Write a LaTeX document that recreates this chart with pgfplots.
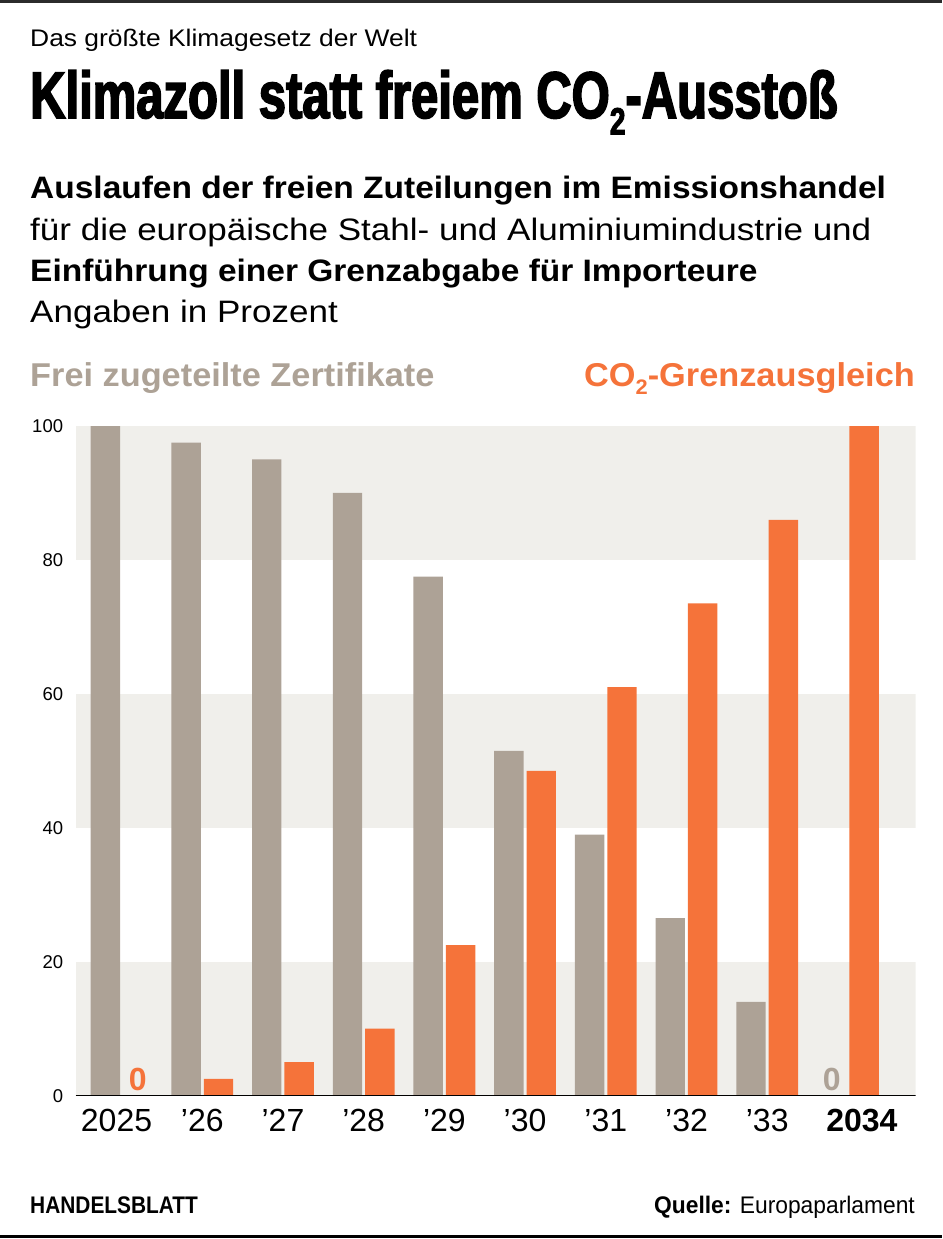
\documentclass[border=0pt]{standalone}
\usepackage{fontspec}
\setmainfont{Liberation Sans}
\newfontfamily\bodyfont[FakeStretch=1.13]{Liberation Sans}
\newfontfamily\bodyboldfont[FakeStretch=1.08]{Liberation Sans}
\newfontfamily\subfont[FakeStretch=1.1]{Liberation Sans}
\newfontfamily\legendfont[FakeStretch=1.04]{Liberation Sans}
\newfontfamily\condfont[FakeStretch=0.87]{Liberation Sans}
\newfontfamily\quellefont[FakeStretch=0.95]{Liberation Sans}
\newfontfamily\titlefont[FakeStretch=0.742,FakeBold=2.5]{Liberation Sans Bold}
\usepackage{pgfplots}
\usepackage{pgfplotstable}
\pgfplotsset{compat=1.18}
\definecolor{band}{HTML}{F0EFEB}
\definecolor{bargray}{HTML}{ADA296}
\definecolor{barorange}{HTML}{F5733A}
\definecolor{topline}{HTML}{2B2B2B}

\pgfplotstableread{
x free cbam
0 100 0
1 97.5 2.5
2 95 5
3 90 10
4 77.5 22.5
5 51.5 48.5
6 39 61
7 26.5 73.5
8 14 86
9 0 100
}\data

\begin{document}
\begin{tikzpicture}
\path (0,0) rectangle (942pt,-1239pt);
\fill[topline] (0,0) rectangle (942pt,-2.7pt);
\node[anchor=base west, inner sep=0] at (30pt,-46.7pt) {\fontsize{24}{28}\subfont Das größte Klimagesetz der Welt};
\node[anchor=base west, inner sep=0] at (30pt,-118pt) {\fontsize{66}{70}\titlefont Klimazoll statt freiem CO\raisebox{-0.25em}{\fontsize{38}{40}\selectfont 2}-Ausstoß};

\node[anchor=base west, inner sep=0] at (30pt,-198pt) {\fontsize{31}{34}\bodyboldfont\bfseries Auslaufen der freien Zuteilungen im Emissionshandel};
\node[anchor=base west, inner sep=0] at (30pt,-240pt) {\fontsize{31}{34}\bodyfont für die europäische Stahl- und Aluminiumindustrie und};
\node[anchor=base west, inner sep=0] at (30pt,-281pt) {\fontsize{31}{34}\bodyboldfont\bfseries Einführung einer Grenzabgabe für Importeure};
\node[anchor=base west, inner sep=0] at (30pt,-322pt) {\fontsize{31}{34}\bodyfont Angaben in Prozent};

\node[anchor=base west, inner sep=0, text=bargray] at (30pt,-386pt) {\fontsize{33}{36}\legendfont\bfseries Frei zugeteilte Zertifikate};
\node[anchor=base east, inner sep=0, text=barorange] at (915pt,-386pt) {\fontsize{33}{36}\legendfont\bfseries CO\raisebox{-0.25em}{\fontsize{21}{22}\selectfont 2}-Grenzausgleich};

\begin{axis}[
  at={(75.7pt,-1095.7pt)}, anchor=south west,
  scale only axis, width=840pt, height=669.7pt,
  xmin=-0.568, xmax=9.84, ymin=0, ymax=100,
  axis line style={draw=none},
  major tick length=0pt, tick style={draw=none},
  ytick={0,20,40,60,80,100},
  /pgf/number format/assume math mode=true,
  yticklabel style={font=\fontsize{18.5}{20}\selectfont, anchor=east, inner sep=0pt, xshift=-12.4pt},
  xtick={0,1,2,3,4,5,6,7,8,9},
  xticklabels={2025\hspace*{10pt},’26,’27,’28,’29,’30,’31,’32,’33,\hspace*{28pt}\textbf{2034}},
  xticklabel style={font=\fontsize{32}{36}\selectfont, anchor=base, inner sep=0pt, yshift=-36pt},
]
\fill[band] (axis cs:-0.568,0) rectangle (axis cs:9.84,20);
\fill[band] (axis cs:-0.568,40) rectangle (axis cs:9.84,60);
\fill[band] (axis cs:-0.568,80) rectangle (axis cs:9.84,100);
\addplot[ybar, bar width=29.4pt, bar shift=-16.2pt, fill=bargray, draw=none] table[x=x,y=free]{\data};
\addplot[ybar, bar width=29.4pt, bar shift=16.2pt, fill=barorange, draw=none] table[x=x,y=cbam]{\data};
\node[text=barorange, anchor=base, inner sep=0, xshift=16.2pt, yshift=5.7pt] at (axis cs:0,0) {\fontsize{32}{34}\selectfont\bfseries 0};
\node[text=bargray, anchor=base, inner sep=0, xshift=-16.2pt, yshift=5.7pt] at (axis cs:9,0) {\fontsize{32}{34}\selectfont\bfseries 0};
\draw[black, line width=2pt] (axis cs:-0.568,0) -- (axis cs:9.84,0);
\end{axis}

\node[anchor=base west, inner sep=0] at (30pt,-1213pt) {\fontsize{24}{28}\condfont\bfseries HANDELSBLATT};
\node[anchor=base east, inner sep=0] at (915pt,-1213pt) {\fontsize{24}{28}\quellefont{\bfseries Quelle:} Europaparlament};
\fill[black] (0,-1235pt) rectangle (942pt,-1237.5pt);
\end{tikzpicture}
\end{document}
